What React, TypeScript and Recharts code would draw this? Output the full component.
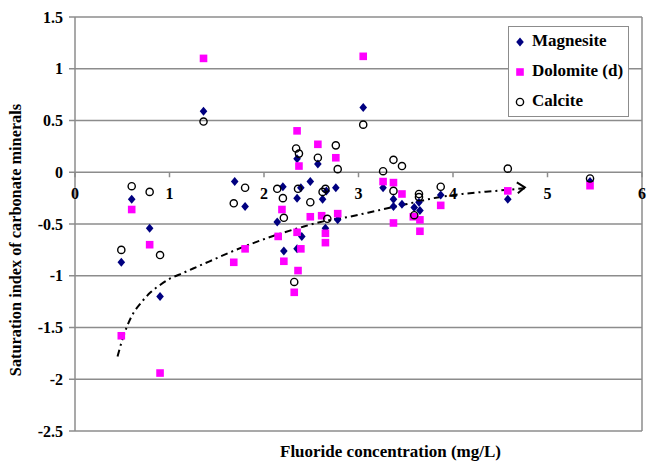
import React from 'react';
import {
  ScatterChart,
  Scatter,
  XAxis,
  YAxis,
  CartesianGrid,
  ReferenceLine,
  ReferenceDot,
  Legend,
} from 'recharts';

const FONT = 'Liberation Serif, Times New Roman, DejaVu Serif, serif';
const GRID = '#8c8c8c';

// Magnesite
const MAG_X = [0.49, 0.6, 0.79, 0.9, 1.36, 1.69, 1.8, 2.14, 2.2, 2.21, 2.35, 2.35, 2.35, 2.39, 2.4, 2.49, 2.57, 2.62, 2.65, 2.66, 2.76, 2.78, 3.05, 3.26, 3.37, 3.37, 3.46, 3.59, 3.64, 3.65, 3.87, 4.58, 5.45];
const MAG_Y = [-0.87, -0.26, -0.54, -1.2, 0.59, -0.09, -0.33, -0.48, -0.14, -0.76, 0.13, -0.25, -0.74, -0.15, -0.62, -0.09, 0.08, -0.26, -0.54, -0.18, -0.15, -0.46, 0.625, -0.15, -0.26, -0.33, -0.31, -0.34, -0.29, -0.37, -0.22, -0.26, -0.09];

// Dolomite (d)
const DOL_X = [0.49, 0.6, 0.79, 0.9, 1.36, 1.68, 1.8, 2.15, 2.19, 2.21, 2.32, 2.35, 2.35, 2.36, 2.37, 2.39, 2.49, 2.57, 2.61, 2.65, 2.65, 2.76, 2.78, 3.05, 3.26, 3.37, 3.37, 3.46, 3.58, 3.65, 3.65, 3.87, 4.58, 5.45];
const DOL_Y = [-1.58, -0.36, -0.7, -1.94, 1.1, -0.87, -0.74, -0.62, -0.36, -0.86, -1.16, 0.4, -0.58, -0.95, 0.06, -0.74, -0.43, 0.27, -0.42, -0.59, -0.68, 0.14, -0.4, 1.12, -0.09, -0.1, -0.49, -0.21, -0.43, -0.46, -0.57, -0.32, -0.18, -0.13];

// Calcite
const CAL_X = [0.49, 0.6, 0.79, 0.9, 1.36, 1.68, 1.8, 2.14, 2.2, 2.21, 2.32, 2.34, 2.37, 2.36, 2.49, 2.57, 2.62, 2.65, 2.67, 2.76, 2.78, 3.05, 3.26, 3.37, 3.46, 3.37, 3.64, 3.64, 3.59, 3.87, 4.58, 5.45];
const CAL_Y = [-0.75, -0.135, -0.19, -0.8, 0.49, -0.3, -0.15, -0.16, -0.25, -0.44, -1.06, 0.23, 0.18, -0.16, -0.29, 0.14, -0.19, -0.16, -0.45, 0.26, 0.03, 0.46, 0.01, 0.12, 0.06, -0.18, -0.21, -0.24, -0.415, -0.14, 0.035, -0.06];

// Trend curve
const TREND_X = [0.45, 0.5, 0.55, 0.6, 0.7, 0.8, 0.9, 1.0, 1.1, 1.25, 1.45, 1.65, 1.9, 2.15, 2.4, 2.6, 2.9, 3.2, 3.5, 3.8, 4.1, 4.45, 4.76];
const TREND_Y = [-1.78, -1.62, -1.49, -1.39, -1.26, -1.16, -1.09, -1.03, -0.99, -0.93, -0.85, -0.77, -0.68, -0.6, -0.53, -0.48, -0.43, -0.37, -0.31, -0.25, -0.21, -0.18, -0.155];

const X_TICKS = [0, 1, 2, 3, 4, 5, 6];
const Y_TICKS = [-2.5, -2, -1.5, -1, -0.5, 0, 0.5, 1, 1.5];

const SERIES_NAMES = ['Magnesite', 'Dolomite (d)', 'Calcite'];

const toPts = (xs: number[], ys: number[]) => xs.map((x, i) => ({ x, y: ys[i] }));
const magData = toPts(MAG_X, MAG_Y);
const dolData = toPts(DOL_X, DOL_Y);
const calData = toPts(CAL_X, CAL_Y);
const trendData = toPts(TREND_X, TREND_Y);

const Diamond = (p: any) => {
  const { cx, cy } = p;
  const s = 4.5;
  return (
    <polygon
      points={`${cx},${cy - s} ${cx + s - 0.7},${cy} ${cx},${cy + s} ${cx - s + 0.7},${cy}`}
      fill="#000080"
    />
  );
};
const Square = (p: any) => {
  const { cx, cy } = p;
  return <rect x={cx - 3.8} y={cy - 3.8} width={7.6} height={7.6} fill="#ff00ff" />;
};
const Ring = (p: any) => {
  const { cx, cy } = p;
  return <circle cx={cx} cy={cy} r={3.6} fill="none" stroke="#000" strokeWidth={1.4} />;
};
const TrendEnd = (p: any) => {
  const { cx, cy, payload } = p;
  if (!payload || payload.x !== TREND_X[TREND_X.length - 1]) return <g />;
  return (
    <polyline
      points={`${cx - 8},${cy - 6} ${cx},${cy - 1} ${cx - 7},${cy + 5}`}
      fill="none"
      stroke="#000"
      strokeWidth={2}
    />
  );
};

const makeXTick = (label: string) => (p: any) => {
  const { cx, cy } = p;
  return (
    <g>
      <line x1={cx} y1={cy} x2={cx} y2={cy + 5} stroke={GRID} strokeWidth={1.5} />
      <text
        x={cx}
        y={cy + 27}
        textAnchor="middle"
        fontFamily={FONT}
        fontWeight="bold"
        fontSize={16}
        fill="#000"
      >
        {label}
      </text>
    </g>
  );
};

const LegendMarker = ({ i }: { i: number }) => (
  <svg width={12} height={12} style={{ position: 'absolute', left: 5, top: -6 }}>
    {i === 0 && <Diamond cx={6} cy={6} />}
    {i === 1 && <Square cx={6} cy={6} />}
    {i === 2 && <Ring cx={6} cy={6} />}
  </svg>
);

const LegendBox = () => (
  <div
    style={{
      position: 'relative',
      width: 121,
      height: 91,
      boxSizing: 'border-box',
      border: `1.5px solid ${GRID}`,
      background: '#fff',
      fontFamily: FONT,
      fontWeight: 'bold',
      fontSize: 17,
      color: '#000',
    }}
  >
    {SERIES_NAMES.map((name, i) => (
      <div key={name} style={{ position: 'absolute', left: 0, top: 15 + i * 30, height: 0 }}>
        <LegendMarker i={i} />
        <span style={{ position: 'absolute', left: 23, top: -11, whiteSpace: 'nowrap', lineHeight: '20px' }}>
          {name}
        </span>
      </div>
    ))}
  </div>
);

const YLabel = (props: any) => {
  const vb = props.viewBox || {};
  const x = vb.x + 15;
  const y = vb.y + vb.height / 2 + 16;
  return (
    <text
      x={x}
      y={y}
      transform={`rotate(-90, ${x}, ${y})`}
      textAnchor="middle"
      dominantBaseline="central"
      fontFamily={FONT}
      fontWeight="bold"
      fontSize={16.3}
      fill="#000"
    >
      Saturation index of carbonate minerals
    </text>
  );
};

const XLabel = (props: any) => {
  const vb = props.viewBox || {};
  return (
    <text
      x={vb.x + vb.width / 2 + 32}
      y={vb.y + 26}
      textAnchor="middle"
      fontFamily={FONT}
      fontWeight="bold"
      fontSize={17}
      fill="#000"
    >
      Fluoride concentration (mg/L)
    </text>
  );
};

export default function App() {
  return (
    <div style={{ position: 'absolute', left: 0, top: 0, width: 647, height: 461, background: '#fff' }}>
      <ScatterChart width={647} height={461} margin={{ top: 17, right: 5, bottom: 0, left: 0 }}>
        <CartesianGrid horizontal vertical={false} stroke={GRID} strokeWidth={1.5} />
        <XAxis
          type="number"
          dataKey="x"
          domain={[0, 6]}
          ticks={X_TICKS}
          tick={false}
          tickLine={false}
          axisLine={false}
          height={30}
          label={{ content: XLabel } as any}
        />
        <YAxis
          type="number"
          dataKey="y"
          domain={[-2.5, 1.5]}
          ticks={Y_TICKS}
          interval={0}
          width={75}
          tickSize={6}
          tickMargin={6}
          axisLine={{ stroke: GRID, strokeWidth: 1.5 }}
          tickLine={{ stroke: GRID, strokeWidth: 1.5 }}
          tick={{ fill: '#000', fontFamily: FONT, fontWeight: 'bold', fontSize: 16 }}
          label={{ content: YLabel } as any}
        />
        <ReferenceLine x={6} stroke={GRID} strokeWidth={1.5} />
        {X_TICKS.map((t) => (
          <ReferenceDot key={t} x={t} y={0} r={1} shape={makeXTick(String(t))} />
        ))}
        <Scatter
          name="Trend"
          data={trendData}
          fill="#000"
          line={{ stroke: '#000', strokeWidth: 2, strokeDasharray: '7 4 2 4' }}
          lineJointType="monotoneX"
          shape={TrendEnd}
          legendType="none"
          isAnimationActive={false}
        />
        <Scatter name="Magnesite" data={magData} fill="#000080" shape={Diamond} isAnimationActive={false} />
        <Scatter name="Dolomite (d)" data={dolData} fill="#ff00ff" shape={Square} isAnimationActive={false} />
        <Scatter name="Calcite" data={calData} fill="#000" shape={Ring} isAnimationActive={false} />
        <Legend
          layout="horizontal"
          align="center"
          verticalAlign="middle"
          content={LegendBox as any}
          wrapperStyle={{ position: 'absolute', left: 508, top: 26, width: 121, height: 91 }}
        />
      </ScatterChart>
    </div>
  );
}
